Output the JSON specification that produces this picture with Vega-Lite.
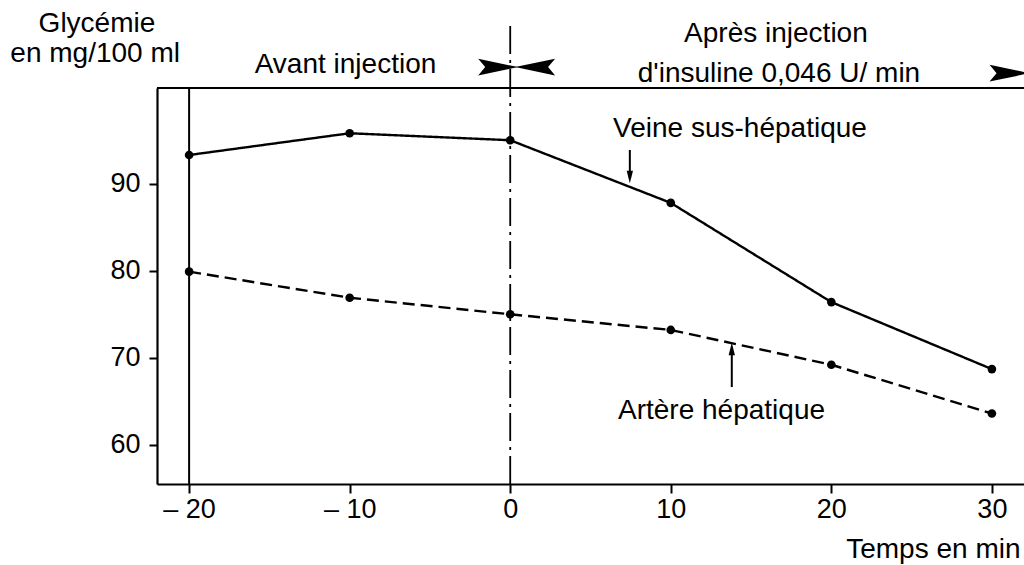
{
  "$schema": "https://vega.github.io/schema/vega-lite/v6.json",
  "width": 867,
  "height": 396,
  "autosize": {"type": "none"},
  "padding": {"left": 157, "top": 88, "right": 0, "bottom": 81},
  "background": "white",
  "config": {"view": {"stroke": null}, "font": "Liberation Sans"},
  "datasets": {
    "mesures": [
      {"t": -20, "v": 93.3, "serie": "Veine sus-hépatique"},
      {"t": -10, "v": 95.8, "serie": "Veine sus-hépatique"},
      {"t": 0, "v": 95.0, "serie": "Veine sus-hépatique"},
      {"t": 10, "v": 87.8, "serie": "Veine sus-hépatique"},
      {"t": 20, "v": 76.4, "serie": "Veine sus-hépatique"},
      {"t": 30, "v": 68.7, "serie": "Veine sus-hépatique"},
      {"t": -20, "v": 79.9, "serie": "Artère hépatique"},
      {"t": -10, "v": 76.9, "serie": "Artère hépatique"},
      {"t": 0, "v": 75.0, "serie": "Artère hépatique"},
      {"t": 10, "v": 73.2, "serie": "Artère hépatique"},
      {"t": 20, "v": 69.2, "serie": "Artère hépatique"},
      {"t": 30, "v": 63.6, "serie": "Artère hépatique"}
    ],
    "repere": [{"t": -20, "y1": 55.5, "y2": 101}],
    "injection": [{"t": 0, "y1": 55.5, "y2": 108.5}],
    "bord": [{"v": 101}],
    "textes": [
      {"t": -25.74, "v": 107.43, "texte": "Glycémie"},
      {"t": -25.85, "v": 103.99, "texte": "en mg/100 ml"},
      {"t": -10.26, "v": 102.72, "texte": "Avant injection"},
      {"t": 16.55, "v": 106.29, "texte": "Après injection"},
      {"t": 16.74, "v": 101.69, "texte": "d'insuline 0,046 U/ min"},
      {"t": 14.31, "v": 95.37, "texte": "Veine sus-hépatique"},
      {"t": 13.16, "v": 62.97, "texte": "Artère hépatique"}
    ],
    "fleches": [
      {"t": 7.45, "y1": 93.88, "y2": 90.66, "tete": 90.77, "sens": "bas"},
      {"t": 13.8, "y1": 66.64, "y2": 70.9, "tete": 71.01, "sens": "haut"}
    ],
    "pointes": [
      {"t": -0.75, "v": 103.4, "sens": "droite"},
      {"t": 1.55, "v": 103.4, "sens": "gauche"},
      {"t": 31.1, "v": 102.7, "sens": "droite"}
    ]
  },
  "layer": [
    {
      "data": {"name": "mesures"},
      "mark": {"type": "line", "color": "black", "strokeWidth": 2.4},
      "encoding": {
        "x": {
          "field": "t", "type": "quantitative",
          "scale": {"domain": [-22, 32], "nice": false, "zero": false},
          "axis": {
            "values": [-20, -10, 0, 10, 20, 30],
            "labelExpr": "datum.value < 0 ? '– ' + abs(datum.value) : datum.label",
            "title": "Temps en min",
            "titleFont": "Liberation Sans",
            "titleFontSize": 28,
            "titleFontWeight": "normal",
            "titleColor": "black",
            "titleAnchor": "end",
            "titleAlign": "right",
            "titleX": 863,
            "titleY": 73,
            "titleBaseline": "alphabetic",
            "grid": false,
            "domainColor": "black",
            "domainWidth": 2.2,
            "tickColor": "black",
            "tickWidth": 2,
            "tickSize": 9,
            "labelFont": "Liberation Sans",
            "labelFontSize": 27,
            "labelColor": "black",
            "labelPadding": 3,
            "labelFlush": false,
            "labelOverlap": false
          }
        },
        "y": {
          "field": "v", "type": "quantitative",
          "scale": {"domain": [55.5, 101], "nice": false, "zero": false},
          "axis": {
            "values": [60, 70, 80, 90],
            "title": null,
            "grid": false,
            "domainColor": "black",
            "domainWidth": 2.2,
            "tickColor": "black",
            "tickWidth": 2,
            "tickSize": 8,
            "labelFont": "Liberation Sans",
            "labelFontSize": 27,
            "labelColor": "black",
            "labelPadding": 9
          }
        },
        "detail": {"field": "serie", "type": "nominal"},
        "strokeDash": {
          "field": "serie", "type": "nominal",
          "scale": {"domain": ["Veine sus-hépatique", "Artère hépatique"], "range": [[1, 0], [12, 6]]},
          "legend": null
        }
      }
    },
    {
      "data": {"name": "mesures"},
      "mark": {"type": "point", "filled": true, "color": "black", "size": 75, "opacity": 1},
      "encoding": {
        "x": {"field": "t", "type": "quantitative", "scale": {"domain": [-22, 32], "nice": false, "zero": false}},
        "y": {"field": "v", "type": "quantitative", "scale": {"domain": [55.5, 101], "nice": false, "zero": false}}
      }
    },
    {
      "data": {"name": "repere"},
      "mark": {"type": "rule", "color": "black", "strokeWidth": 2},
      "encoding": {
        "x": {"field": "t", "type": "quantitative", "scale": {"domain": [-22, 32], "nice": false, "zero": false}},
        "y": {"field": "y1", "type": "quantitative", "scale": {"domain": [55.5, 101], "nice": false, "zero": false}},
        "y2": {"field": "y2"}
      }
    },
    {
      "data": {"name": "injection"},
      "mark": {"type": "rule", "color": "black", "strokeWidth": 1.8, "strokeDash": [28, 6, 3, 6]},
      "encoding": {
        "x": {"field": "t", "type": "quantitative", "scale": {"domain": [-22, 32], "nice": false, "zero": false}},
        "y": {"field": "y1", "type": "quantitative", "scale": {"domain": [55.5, 101], "nice": false, "zero": false}},
        "y2": {"field": "y2"}
      }
    },
    {
      "data": {"name": "bord"},
      "mark": {"type": "rule", "color": "black", "strokeWidth": 2.2},
      "encoding": {
        "y": {"field": "v", "type": "quantitative", "scale": {"domain": [55.5, 101], "nice": false, "zero": false}}
      }
    },
    {
      "data": {"name": "textes"},
      "mark": {"type": "text", "font": "Liberation Sans", "fontSize": 28, "color": "black", "align": "center", "baseline": "alphabetic"},
      "encoding": {
        "x": {"field": "t", "type": "quantitative", "scale": {"domain": [-22, 32], "nice": false, "zero": false}},
        "y": {"field": "v", "type": "quantitative", "scale": {"domain": [55.5, 101], "nice": false, "zero": false}},
        "text": {"field": "texte"}
      }
    },
    {
      "data": {"name": "fleches"},
      "mark": {"type": "rule", "color": "black", "strokeWidth": 2},
      "encoding": {
        "x": {"field": "t", "type": "quantitative", "scale": {"domain": [-22, 32], "nice": false, "zero": false}},
        "y": {"field": "y1", "type": "quantitative", "scale": {"domain": [55.5, 101], "nice": false, "zero": false}},
        "y2": {"field": "y2"}
      }
    },
    {
      "data": {"name": "fleches"},
      "mark": {"type": "point", "filled": true, "color": "black", "size": 160, "opacity": 1},
      "encoding": {
        "x": {"field": "t", "type": "quantitative", "scale": {"domain": [-22, 32], "nice": false, "zero": false}},
        "y": {"field": "tete", "type": "quantitative", "scale": {"domain": [55.5, 101], "nice": false, "zero": false}},
        "shape": {
          "field": "sens", "type": "nominal",
          "scale": {"domain": ["bas", "haut", "droite", "gauche"], "range": ["M0,1L-0.5,-1L0.5,-1Z", "M0,-1L-0.5,1L0.5,1Z", "M1,0L-1,-0.42L-0.65,0L-1,0.42Z", "M-1,0L1,-0.42L0.65,0L1,0.42Z"]},
          "legend": null
        }
      }
    },
    {
      "data": {"name": "pointes"},
      "mark": {"type": "point", "filled": true, "color": "black", "size": 1600, "opacity": 1},
      "encoding": {
        "x": {"field": "t", "type": "quantitative", "scale": {"domain": [-22, 32], "nice": false, "zero": false}},
        "y": {"field": "v", "type": "quantitative", "scale": {"domain": [55.5, 101], "nice": false, "zero": false}},
        "shape": {
          "field": "sens", "type": "nominal",
          "scale": {"domain": ["bas", "haut", "droite", "gauche"], "range": ["M0,1L-0.5,-1L0.5,-1Z", "M0,-1L-0.5,1L0.5,1Z", "M1,0L-1,-0.42L-0.65,0L-1,0.42Z", "M-1,0L1,-0.42L0.65,0L1,0.42Z"]},
          "legend": null
        }
      }
    }
  ]
}
